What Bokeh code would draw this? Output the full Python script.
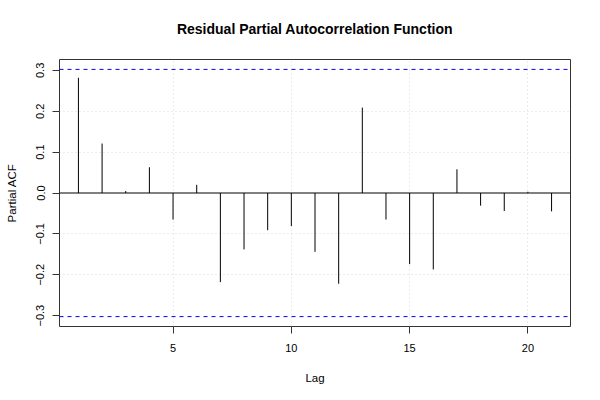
from bokeh.plotting import figure
from bokeh.models import Range1d, FixedTicker, Span, ColumnDataSource
from bokeh.embed import file_html
from bokeh.resources import INLINE

lags = list(range(1, 22))
pacf = [0.282, 0.121, 0.005, 0.063, -0.065, 0.020, -0.218, -0.138, -0.091, -0.081,
        -0.144, -0.222, 0.209, -0.065, -0.174, -0.187, 0.058, -0.031, -0.044, 0.003, -0.045]
ci = 0.3024
x_ticks = [5, 10, 15, 20]
y_ticks = [-0.3, -0.2, -0.1, 0.0, 0.1, 0.2, 0.3]
y_tick_labels = ["\u22120.3", "\u22120.2", "\u22120.1", "0.0", "0.1", "0.2", "0.3"]
y_grid = [-0.2, -0.1, 0.1, 0.2]
title_text = "Residual Partial Autocorrelation Function"

FONT = "Liberation Sans"

p = figure(width=592, height=392, output_backend="svg", toolbar_location=None,
           x_range=Range1d(0.2, 21.8), y_range=Range1d(-0.3266, 0.3266),
           min_border_left=59, min_border_right=22, min_border_top=59, min_border_bottom=66,
           title=title_text)

p.title.align = "center"
p.title.vertical_align = "top"
p.title.text_font = FONT
p.title.text_font_size = "14px"
p.title.text_font_style = "bold"
p.title.text_color = "black"
p.title.standoff = 41

p.outline_line_color = "#333333"
p.outline_line_width = 1
p.background_fill_color = "white"

for ax in (p.xaxis[0], p.yaxis[0]):
    ax.axis_line_color = None
    ax.major_tick_out = 7
    ax.major_tick_in = 0
    ax.minor_tick_line_color = None
    ax.major_tick_line_color = "#333333"
    ax.major_label_text_font = FONT
    ax.major_label_text_font_size = "11px"
    ax.major_label_text_color = "black"
    ax.axis_label_text_font = FONT
    ax.axis_label_text_font_size = "11.5px"
    ax.axis_label_text_font_style = "normal"
    ax.axis_label_text_color = "black"

p.xaxis.ticker = FixedTicker(ticks=x_ticks)
p.yaxis.ticker = FixedTicker(ticks=y_ticks)
p.yaxis.major_label_overrides = {t: l for t, l in zip(y_ticks, y_tick_labels)}
p.yaxis.major_label_orientation = "vertical"
p.xaxis.axis_label = "Lag"
p.yaxis.axis_label = "Partial ACF"
p.xaxis.major_label_standoff = 10
p.yaxis.major_label_standoff = 8
p.xaxis.axis_label_standoff = 17
p.yaxis.axis_label_standoff = 16

for g in (p.xgrid[0], p.ygrid[0]):
    g.grid_line_color = "#dadada"
    g.grid_line_dash = "1 3"
    g.grid_line_width = 1
p.ygrid[0].ticker = FixedTicker(ticks=y_grid)

src = ColumnDataSource(dict(lag=lags, val=pacf, zero=[0] * len(lags)))
p.segment(x0="lag", y0="zero", x1="lag", y1="val", source=src, line_color="black", line_width=1)

p.add_layout(Span(location=0, dimension="width", line_color="black", line_width=1))
for c in (ci, -ci):
    p.add_layout(Span(location=c, dimension="width", line_color="blue", line_width=1,
                      line_dash="4 4"))

open("out.html", "w").write(file_html(p, INLINE))
